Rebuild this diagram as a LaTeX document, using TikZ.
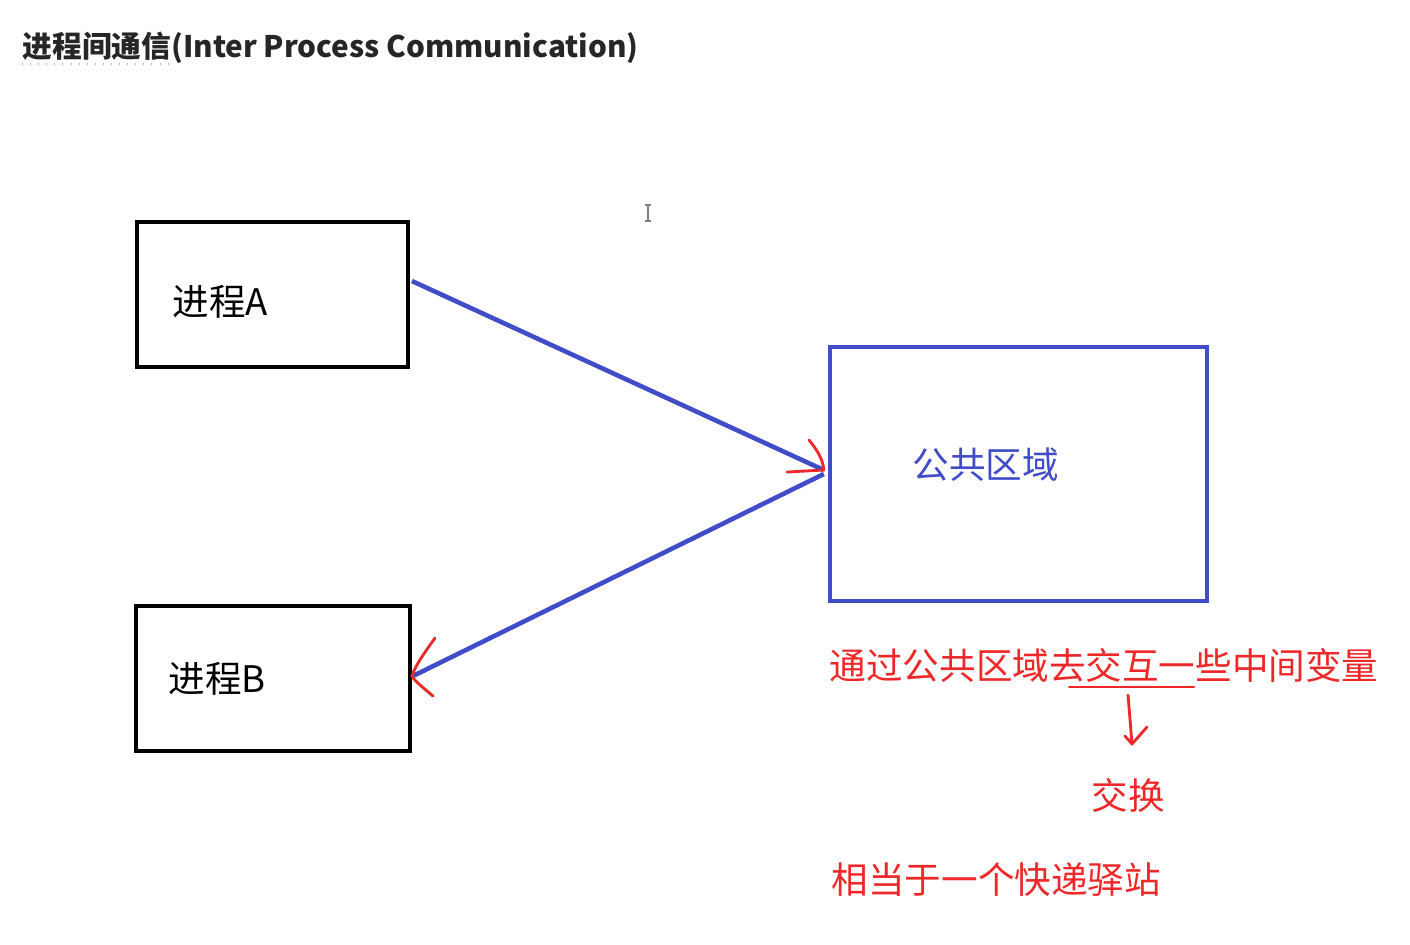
\documentclass[tikz,border=0pt]{standalone}
\usepackage{fontspec}
\newfontfamily\cjk{Noto Sans CJK SC}
\usetikzlibrary{arrows,calc}

\definecolor{ipcblue}{RGB}{64,76,200}
\definecolor{notered}{RGB}{238,40,40}

\tikzset{
	procbox/.style={draw=black,line width=1.05pt,inner sep=0pt},
	sharebox/.style={draw=ipcblue,line width=1.2pt,inner sep=0pt},
	boxtext/.style={inner sep=0pt,anchor=west,font=\cjk\fontsize{10.4pt}{12pt}\selectfont},
	notetext/.style={boxtext,text=notered},
	link/.style={draw=ipcblue,line width=1.3pt},
	handred/.style={draw=notered,line width=0.8pt,line cap=round,line join=round}
}

\begin{document}
\begin{tikzpicture}[x=0.01cm,y=-0.01cm,>=latex]

\useasboundingbox (0,0) rectangle (1410,944);

% title
\node[inner sep=0pt,anchor=base west,font=\cjk\bfseries\fontsize{8.45pt}{10pt}\selectfont,text=black!85]
	(title) at (22,57) {进程间通信(Inter Process Communication)};
\draw[gray!60,dotted,line width=0.3pt] (22,64)--(170,64);

% cursor
\draw[gray,line width=0.5pt] (645,205)--(651,205) (648,205)--(648,221) (645,221)--(651,221);

% boxes
\node[procbox,minimum width=2.71cm,minimum height=1.45cm] (procA) at (272.5,294.5) {};
\node[procbox,minimum width=2.74cm,minimum height=1.45cm] (procB) at (273,678.5) {};
\node[sharebox,minimum width=3.77cm,minimum height=2.54cm] (share) at (1018.5,474) {};

\node[boxtext] (labA) at (172,302) {进程A};
\node[boxtext] (labB) at (168,679) {进程B};
\node[boxtext,text=ipcblue] (labS) at (912,465) {公共区域};

% links
\coordinate (outA) at ($(procA.east)+(2,-13.5)$);
\coordinate (inS) at ($(share.west)+(-4,-4)$);
\coordinate (outS) at ($(share.west)+(-4,0)$);
\coordinate (inB) at ($(procB.east)+(0,-2)$);

\draw[link] (outA)--(inS);
\draw[link] (outS)--(inB);

% hand drawn heads
\draw[handred] (809,440) .. controls (818,451) and (823,460) .. (inS);
\draw[handred] (787,472)--(inS);
\draw[handred] (435,638) .. controls (422,656) and (414,668) .. (inB);
\draw[handred] (inB) .. controls (418,684) and (426,690) .. (433,696);

% notes
\node[notetext] (note1) at (829,665) {通过公共区域去交互一些中间变量};
\draw[handred,line width=0.6pt] (1069,687)--(1194,687);

\node[notetext] (swap) at (1091,795) {交换};
\coordinate (ulmid) at (1128,695);
\coordinate (swaptip) at (1132,744);
\draw[handred] (ulmid)--(swaptip);
\draw[handred] (1125,736)--(swaptip)--(1147,727);

\node[notetext] (note2) at (831,880) {相当于一个快递驿站};

\end{tikzpicture}
\end{document}
